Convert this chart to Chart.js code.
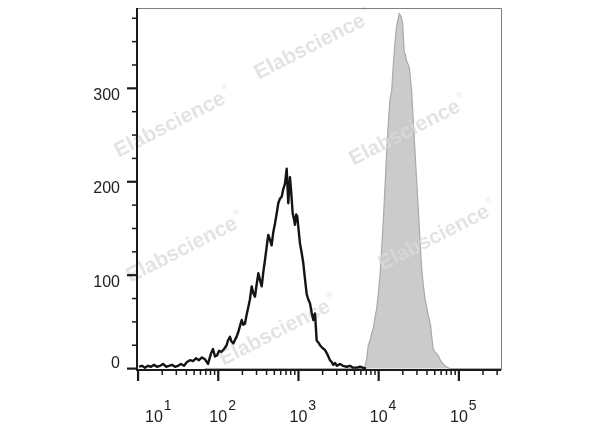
<html>
<head>
<meta charset="UTF-8">
<script src="https://cdn.jsdelivr.net/npm/chart.js"></script>
<style>
  body { margin: 0; background: #fff; }
  canvas { display: block; }
</style>
</head>
<body>
<canvas id="myChart" width="600" height="427"></canvas>
<script>
// isotype control (black outline) - channel intensity and event counts
const isoX = [10.3, 11.2, 12.2, 13.3, 14.5, 15.8, 17.2, 18.8, 20.5, 22.3,
  24.3, 26.5, 28.9, 31.5, 34.3, 37.4, 40.7, 44.4, 48.4, 52.7,
  57.4, 62.7, 68.2, 74.5, 81.1, 85.9, 91.0, 96.4, 102, 110,
  118, 127, 132, 140, 146, 154, 162, 169, 179, 187,
  196, 205, 215, 226, 237, 248, 261, 273, 287, 301,
  316, 331, 348, 364, 382, 401, 420, 441, 463, 485,
  509, 535, 560, 588, 618, 646, 679, 713, 746, 783,
  813, 847, 879, 904, 936, 966, 1005, 1044, 1096, 1148,
  1205, 1265, 1325, 1391, 1461, 1531, 1607, 1687, 1766, 1854,
  1991, 2138, 2300, 2471, 2594, 2716, 2851, 3020, 3289, 3589,
  3990, 4385, 4786, 5321, 5848, 6368, 6950];
const isoCounts = [2, 3, 1, 3, 2, 4, 2, 3, 5, 2,
  3, 4, 2, 3, 5, 3, 7, 9, 8, 11,
  9, 12, 10, 5, 16, 21, 13, 14, 19, 18,
  21, 25, 30, 34, 29, 27, 31, 34, 40, 46,
  52, 47, 48, 58, 66, 74, 88, 81, 77, 90,
  102, 95, 88, 103, 116, 130, 143, 138, 132, 146,
  155, 166, 177, 182, 184, 192, 198, 214, 177, 205,
  188, 166, 160, 154, 165, 163, 148, 134, 124, 113,
  96, 80, 74, 70, 60, 52, 59, 30, 28, 25,
  22, 20, 15, 9, 7, 4, 6, 3, 5, 3,
  2, 3, 1, 1, 2, 1, 0];

// stained sample (grey filled)
const stainX = [68, 6368, 6745, 7079, 7413, 7798, 8185, 8570, 8995, 9441, 9886,
  10380, 10890, 11400, 11990, 12590, 13180, 13840, 14520, 15210, 15850,
  16440, 17020, 17540, 18030, 18450, 19140, 19910, 20370, 20840, 21580,
  22340, 23170, 24100, 24950, 25760, 26980, 28380, 29790, 31190, 32730,
  34360, 35970, 37760, 39630, 41500, 42950, 44460, 46130, 47860, 50230,
  52720, 55210, 58070, 60950, 63830, 66990, 70310, 73620, 77450, 335000];
const stainCounts = [0, 0, 2, 10, 25, 30, 38, 43, 55, 64, 80,
  100, 128, 157, 195, 232, 262, 289, 297, 325, 345,
  361, 370, 375, 380, 379, 376, 370, 352, 339, 336,
  329, 326, 322, 310, 297, 265, 232, 200, 171, 138,
  107, 90, 75, 66, 57, 52, 46, 32, 21, 18,
  16, 14, 10, 7, 5, 3, 2, 1, 0, 0];

// axis ticks
const yMajor = [0, 100, 200, 300];
const yMinorStep = 25;
const xDecades = [1, 2, 3, 4, 5];

const watermarks = [[310, 47], [170, 125], [405, 133], [182, 250], [434, 238], [275, 333]];

const FONT = '"Liberation Sans", Arial, sans-serif';

function drawWatermarks(ctx) {
  ctx.save();
  ctx.fillStyle = 'rgba(218,218,218,0.75)';
  watermarks.forEach(([wx, wy]) => {
    ctx.save();
    ctx.translate(wx, wy);
    ctx.rotate(-27 * Math.PI / 180);
    ctx.font = 'bold 21px ' + FONT;
    ctx.textAlign = 'center';
    ctx.textBaseline = 'middle';
    ctx.fillText('Elabscience', 0, 0);
    const w = ctx.measureText('Elabscience').width;
    ctx.font = '8px ' + FONT;
    ctx.textAlign = 'left';
    ctx.fillText('®', w / 2 + 2, -9);
    ctx.restore();
  });
  ctx.restore();
}

const frame = {
  id: 'frame',
  afterDatasetDraw(chart, args) {
    if (args.index === 1) drawWatermarks(chart.ctx);
  },
  afterDraw(chart) {
    const { ctx, chartArea: a, scales: { x, y } } = chart;
    ctx.save();
    // thin top/right border
    ctx.strokeStyle = '#808080';
    ctx.lineWidth = 1;
    ctx.beginPath();
    ctx.moveTo(a.left, a.top + 0.5);
    ctx.lineTo(a.right + 0.5, a.top + 0.5);
    ctx.lineTo(a.right + 0.5, a.bottom);
    ctx.stroke();
    // main axes
    ctx.strokeStyle = '#1a1a1a';
    ctx.lineWidth = 2;
    ctx.beginPath();
    ctx.moveTo(a.left, a.top);
    ctx.lineTo(a.left, a.bottom);
    ctx.lineTo(a.right, a.bottom);
    ctx.stroke();

    // y ticks
    for (let v = 0; v <= y.max; v += yMinorStep) {
      const py = y.getPixelForValue(v);
      const major = yMajor.includes(v);
      ctx.lineWidth = major ? 2.2 : 1.5;
      ctx.beginPath();
      ctx.moveTo(a.left, py);
      ctx.lineTo(a.left - (major ? 10 : 5), py);
      ctx.stroke();
    }
    ctx.fillStyle = '#222';
    ctx.font = '16px ' + FONT;
    ctx.textAlign = 'right';
    ctx.textBaseline = 'middle';
    yMajor.forEach(v => {
      const py = y.getPixelForValue(v);
      ctx.fillText(String(v), a.left - 17, py + (v === 0 ? -5 : 7));
    });

    // x ticks (log decades)
    xDecades.concat([0]).forEach(d => {
      for (let m = 1; m <= 9; m++) {
        const v = m * Math.pow(10, d);
        if (v < x.min || v > x.max) continue;
        const px = x.getPixelForValue(v);
        ctx.lineWidth = m === 1 ? 2.2 : 1.5;
        ctx.beginPath();
        ctx.moveTo(px, a.bottom);
        ctx.lineTo(px, a.bottom + (m === 1 ? 11 : 5));
        ctx.stroke();
      }
    });
    ctx.textBaseline = 'alphabetic';
    ctx.textAlign = 'left';
    xDecades.forEach(d => {
      const px = x.getPixelForValue(Math.pow(10, d));
      ctx.font = '16px ' + FONT;
      const w = ctx.measureText('10').width;
      const left = Math.max(px - w / 2, a.left + 8);
      ctx.fillText('10', left, 422);
      ctx.font = '14px ' + FONT;
      ctx.fillText(String(d), left + w + 1, 410);
    });
    ctx.restore();
  }
};

const ctx = document.getElementById('myChart');

new Chart(ctx, {
  type: 'line',
  data: {
    datasets: [
      {
        label: 'Isotype',
        data: isoX.map((v, i) => ({ x: v, y: isoCounts[i] })),
        borderColor: '#141414',
        borderWidth: 2.4,
        borderJoinStyle: 'round',
        pointRadius: 0,
        fill: false,
        tension: 0
      },
      {
        label: 'Stained',
        data: stainX.map((v, i) => ({ x: v, y: stainCounts[i] })),
        borderColor: '#a9a9a9',
        backgroundColor: '#cbcbcb',
        borderWidth: 1.2,
        pointRadius: 0,
        fill: 'origin',
        tension: 0
      }
    ]
  },
  options: {
    responsive: false,
    animation: false,
    devicePixelRatio: 1,
    layout: { padding: { left: 137, right: 99, top: 8, bottom: 57 } },
    scales: {
      x: { type: 'logarithmic', min: 9.7, max: 335000, display: false },
      y: { type: 'linear', min: -1.5, max: 386, display: false }
    },
    plugins: {
      legend: { display: false },
      tooltip: { enabled: false }
    }
  },
  plugins: [frame]
});
</script>
</body>
</html>
